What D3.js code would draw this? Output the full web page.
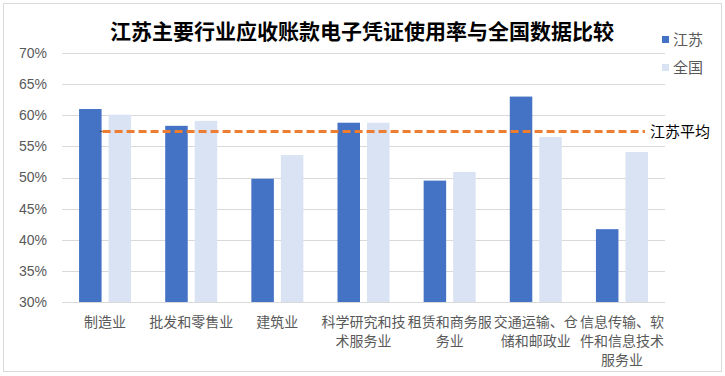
<!DOCTYPE html>
<html>
<head>
<meta charset="utf-8">
<script src="https://cdn.jsdelivr.net/npm/d3@7"></script>
<style>
  body { margin: 0; background: #fff; }
  text { font-family: "Noto Sans CJK SC", "Liberation Sans", sans-serif; }
</style>
</head>
<body>
<svg id="chart" width="725" height="376"></svg>
<script>
var categories = ["制造业", "批发和零售业", "建筑业", "科学研究和技术服务业", "租赁和商务服务业", "交通运输、仓储和邮政业", "信息传输、软件和信息技术服务业"];
var series = ["江苏", "全国"];
var jiangsu = [61.0, 58.3, 49.8, 58.8, 49.5, 63.0, 41.7];
var national = [60.1, 59.1, 53.6, 58.8, 50.9, 56.5, 54.1];
var jiangsuAvg = 57.4;
var yTicks = [30, 35, 40, 45, 50, 55, 60, 65, 70];
var colors = ["#4472C4", "#DAE3F3"];
var title = "江苏主要行业应收账款电子凭证使用率与全国数据比较";
var avgLabel = "江苏平均";

var svg = d3.select("#chart");

// outer frame
svg.append("rect")
  .attr("x", 3.5).attr("y", 3.5)
  .attr("width", 718).attr("height", 368)
  .attr("fill", "#fff").attr("stroke", "#d9d9d9");

// note: "top" clashes with window.top, so plot edges get their own names
var plotLeft = 62, plotRight = 665, plotTop = 53, plotBottom = 302;

var x0 = d3.scaleBand().domain(categories).range([plotLeft, plotRight]);
var x1 = d3.scaleBand().domain(series).range([0, 52]).paddingInner(0.237);
var y = d3.scaleLinear().domain([30, 70]).range([plotBottom, plotTop]);

// gridlines
svg.append("g").selectAll("line")
  .data(yTicks)
  .enter()
  .append("line")
  .attr("x1", plotLeft).attr("x2", plotRight)
  .attr("y1", function(d) { return Math.round(y(d)) + 0.5; })
  .attr("y2", function(d) { return Math.round(y(d)) + 0.5; })
  .attr("stroke", "#d9d9d9");

// y labels
svg.append("g").selectAll("text")
  .data(yTicks)
  .enter()
  .append("text")
  .attr("x", 47)
  .attr("y", function(d) { return y(d); })
  .attr("dy", "0.35em")
  .attr("text-anchor", "end")
  .attr("font-size", 14)
  .attr("fill", "#595959")
  .style("font-family", "'Liberation Sans', sans-serif")
  .text(function(d) { return d + "%"; });

// bars
var rows = categories.map(function(c, i) { return {cat: c, vals: [jiangsu[i], national[i]]}; });
var groups = svg.append("g").selectAll("g")
  .data(rows)
  .enter()
  .append("g")
  .attr("transform", function(d) { return "translate(" + (x0(d.cat) + x0.bandwidth() / 2 - 26) + ",0)"; });

groups.selectAll("rect")
  .data(function(d) { return d.vals.map(function(v, k) { return {s: series[k], v: v, k: k}; }); })
  .enter()
  .append("rect")
  .attr("x", function(d) { return x1(d.s); })
  .attr("width", x1.bandwidth())
  .attr("y", function(d) { return y(d.v); })
  .attr("height", function(d) { return plotBottom - y(d.v); })
  .attr("fill", function(d) { return colors[d.k]; });

// average line
var first = categories[0], last = categories[categories.length - 1];
var ax1 = x0(first) + x0.bandwidth() / 2 - 26 + x1("江苏") + x1.bandwidth();
var ax2 = x0(last) + x0.bandwidth() / 2 - 26 + x1("全国") + x1.bandwidth() - 3;
svg.append("line")
  .attr("x1", ax1 - 2).attr("x2", ax1 + 1)
  .attr("y1", y(jiangsuAvg)).attr("y2", y(jiangsuAvg))
  .attr("stroke", "#404040").attr("stroke-width", 1);
svg.append("line")
  .attr("x1", ax1 + 1).attr("x2", ax2)
  .attr("y1", y(jiangsuAvg)).attr("y2", y(jiangsuAvg))
  .attr("stroke", "#ED7D31")
  .attr("stroke-width", 3)
  .attr("stroke-dasharray", "8,4");
svg.append("text")
  .attr("x", 650).attr("y", y(jiangsuAvg))
  .attr("dy", "0.35em")
  .attr("font-size", 15)
  .attr("fill", "#000")
  .text(avgLabel);

// category labels, wrapped at 6 chars
function wrap(s) {
  var out = [];
  for (var i = 0; i < s.length; i += 6) out.push(s.slice(i, i + 6));
  return out;
}
var cl = svg.append("g").selectAll("text")
  .data(categories)
  .enter()
  .append("text")
  .attr("text-anchor", "middle")
  .attr("font-size", 14)
  .attr("fill", "#595959")
  .attr("transform", function(d) { return "translate(" + (x0(d) + x0.bandwidth() / 2) + ",322)"; });
cl.selectAll("tspan")
  .data(function(d) { return wrap(d); })
  .enter()
  .append("tspan")
  .attr("x", 0)
  .attr("y", function(d, i) { return i * 19; })
  .attr("dy", "0.35em")
  .text(function(d) { return d; });

// title
svg.append("text")
  .attr("x", 362).attr("y", 32)
  .attr("dy", "0.35em")
  .attr("text-anchor", "middle")
  .attr("font-size", 21)
  .attr("font-weight", "bold")
  .attr("fill", "#000")
  .text(title);

// legend
var lg = svg.append("g").selectAll("g")
  .data(series)
  .enter()
  .append("g")
  .attr("transform", function(d, i) { return "translate(662," + (40 + i * 28) + ")"; });
lg.append("rect")
  .attr("x", 0).attr("y", -4)
  .attr("width", 7).attr("height", 7)
  .attr("fill", function(d, i) { return colors[i]; });
lg.append("text")
  .attr("x", 11).attr("y", 0)
  .attr("dy", "0.35em")
  .attr("font-size", 15)
  .attr("fill", "#595959")
  .text(function(d) { return d; });
</script>
</body>
</html>
